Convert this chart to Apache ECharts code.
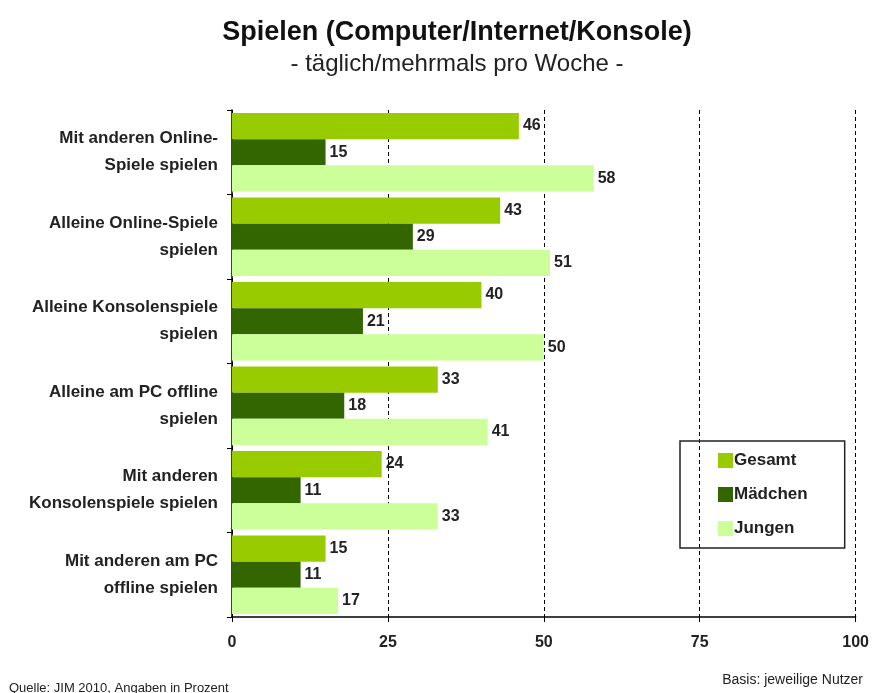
<!DOCTYPE html>
<html>
<head>
<meta charset="utf-8">
<script src="https://cdn.jsdelivr.net/npm/echarts@6/dist/echarts.min.js"></script>
<style>html,body{margin:0;padding:0;background:#fff}#main{width:872px;height:693px}</style>
</head>
<body>
<div id="main"></div>
<script>
// Kategorien (von oben nach unten)
var categories = [
  'Mit anderen Online-\nSpiele spielen',
  'Alleine Online-Spiele\nspielen',
  'Alleine Konsolenspiele\nspielen',
  'Alleine am PC offline\nspielen',
  'Mit anderen\nKonsolenspiele spielen',
  'Mit anderen am PC\noffline spielen'
];
var gesamt = [46, 43, 40, 33, 24, 15];
var maedchen = [15, 29, 21, 18, 11, 11];
var jungen = [58, 51, 50, 41, 33, 17];
var xTicks = [0, 25, 50, 75, 100];

var font = "'Liberation Sans', Arial, sans-serif";

var myChart = echarts.init(document.getElementById('main'));

var lbl = {
  show: true,
  position: 'right',
  distance: 4,
  color: '#222',
  fontWeight: 'bold',
  fontSize: 16,
  fontFamily: font
};

myChart.setOption({
  animation: false,
  title: [{
    text: 'Spielen (Computer/Internet/Konsole)',
    subtext: '- täglich/mehrmals pro Woche -',
    left: 452,
    top: 14,
    textAlign: 'center',
    itemGap: 6,
    textStyle: { fontSize: 27, fontWeight: 'bold', color: '#111', fontFamily: font },
    subtextStyle: { fontSize: 24, color: '#222', fontFamily: font }
  }, {
    text: 'Quelle: JIM 2010, Angaben in Prozent',
    left: 4,
    top: 677,
    textStyle: { fontSize: 13, fontWeight: 'normal', color: '#222', fontFamily: font }
  }, {
    text: 'Basis: jeweilige Nutzer',
    right: 4,
    top: 668,
    textStyle: { fontSize: 14, fontWeight: 'normal', color: '#222', fontFamily: font }
  }],
  color: ['#99cc00', '#336600', '#ccff99'],
  legend: {
    orient: 'vertical',
    left: 680,
    top: 441,
    padding: [11, 37, 11, 38],
    itemGap: 17,
    borderColor: '#222',
    borderWidth: 1.5,
    itemWidth: 15,
    itemHeight: 15,
    icon: 'rect',
    textStyle: { fontSize: 17, fontWeight: 'bold', color: '#222', fontFamily: font, padding: [0, 0, 0, -4] },
    data: ['Gesamt', 'Mädchen', 'Jungen']
  },
  grid: { left: 232, right: 15, top: 110, bottom: 76 },
  xAxis: {
    type: 'value',
    min: 0,
    max: 100,
    interval: 25,
    axisLine: { show: true, lineStyle: { color: '#000', width: 1.5 } },
    axisTick: { show: true, length: 5, lineStyle: { color: '#000' } },
    axisLabel: {
      margin: 18,
      fontSize: 16,
      fontWeight: 'bold',
      color: '#222',
      fontFamily: font,
      formatter: function (v) { return xTicks.indexOf(v) >= 0 ? String(v) : ''; }
    },
    splitLine: { show: true, lineStyle: { color: '#000', type: [4, 3], width: 1 } }
  },
  yAxis: {
    type: 'category',
    inverse: true,
    data: categories,
    axisLine: { show: true, lineStyle: { color: '#000', width: 1.5 } },
    axisTick: { show: true, length: 5, lineStyle: { color: '#000' } },
    axisLabel: {
      margin: 14,
      fontSize: 17,
      fontWeight: 'bold',
      color: '#222',
      lineHeight: 27,
      fontFamily: font
    }
  },
  series: [
    { name: 'Gesamt', type: 'bar', data: gesamt, barGap: '0%', barCategoryGap: '7%', label: lbl },
    { name: 'Mädchen', type: 'bar', data: maedchen, barGap: '0%', barCategoryGap: '7%', label: lbl },
    { name: 'Jungen', type: 'bar', data: jungen, barGap: '0%', barCategoryGap: '7%', label: lbl }
  ]
});
</script>
</body>
</html>
